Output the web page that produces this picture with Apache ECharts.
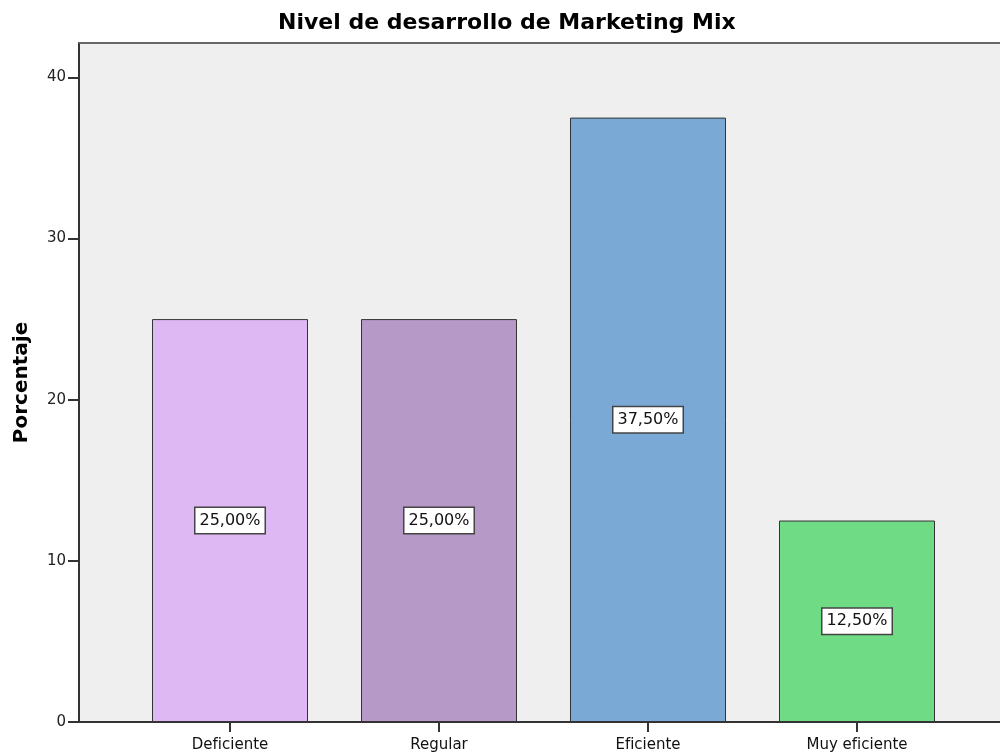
<!DOCTYPE html>
<html lang="es">
<head>
    <meta charset="UTF-8">
    <title>Nivel de desarrollo de Marketing Mix</title>
    <script src="https://cdn.jsdelivr.net/npm/echarts@6/dist/echarts.min.js" type="text/javascript"></script>
    <style>
        html, body { margin: 0; padding: 0; background: #fff; }
        #chart { width: 1000px; height: 756px; }
    </style>
</head>
<body>
<div id="chart"></div>
<script type="text/javascript">
    var categorias = ['Deficiente', 'Regular', 'Eficiente', 'Muy eficiente'];
    var porcentajes = [25.0, 25.0, 37.5, 12.5];
    var colores = ['#ddb8f2', '#b799c8', '#7aa9d6', '#6fdb84'];
    var ticksY = [0, 10, 20, 30, 40];

    var chart = echarts.init(document.getElementById('chart'));
    var fuente = 'DejaVu Sans, sans-serif';
    var yMax = 42.13;

    chart.setOption({
        animation: false,
        title: {
            text: 'Nivel de desarrollo de Marketing Mix',
            left: 273,
            top: 7,
            textStyle: { fontFamily: fuente, fontSize: 22, fontWeight: 'bold', color: '#000' }
        },
        grid: [
            {   // fondo y eje Y
                left: 79, right: 0, top: 43, bottom: 34,
                show: true, backgroundColor: '#efefef', borderWidth: 0
            },
            {   // barras
                left: 125.5, right: 38.5, top: 43, bottom: 34
            }
        ],
        graphic: [
            { type: 'line', shape: { x1: 79, y1: 43, x2: 1000, y2: 43 }, style: { stroke: '#666', lineWidth: 2 }, z: 10 }
        ],
        xAxis: [
            {
                type: 'value', gridIndex: 0, min: 0, max: 1,
                axisLine: { show: true, lineStyle: { color: '#333', width: 2 } },
                axisTick: { show: false }, axisLabel: { show: false }, splitLine: { show: false }
            },
            {
                type: 'category', gridIndex: 1, data: categorias,
                axisLine: { show: false },
                axisTick: { show: true, alignWithLabel: true, length: 10, lineStyle: { color: '#333', width: 2 } },
                axisLabel: { fontFamily: fuente, fontSize: 15, color: '#111', margin: 16 }
            }
        ],
        yAxis: [
            {
                type: 'value', gridIndex: 0, min: 0, max: yMax, interval: 10,
                name: 'Porcentaje', nameLocation: 'middle', nameGap: 47,
                nameTextStyle: { fontFamily: fuente, fontSize: 20, fontWeight: 'bold', color: '#000' },
                axisLine: { show: true, lineStyle: { color: '#333', width: 2 } },
                axisTick: { show: true, length: 11, lineStyle: { color: '#333', width: 2 } },
                axisLabel: {
                    fontFamily: fuente, fontSize: 15, color: '#222', margin: 13, showMaxLabel: false,
                    formatter: function (v) { return ticksY.indexOf(v) >= 0 ? String(v) : ''; }
                },
                splitLine: { show: false }
            },
            {
                type: 'value', gridIndex: 1, min: 0, max: yMax, show: false
            }
        ],
        series: [{
            type: 'bar',
            xAxisIndex: 1,
            yAxisIndex: 1,
            barWidth: 156,
            data: porcentajes.map(function (v, i) {
                return { value: v, itemStyle: { color: colores[i] } };
            }),
            itemStyle: { borderColor: '#333', borderWidth: 1 },
            label: {
                show: true,
                position: 'inside',
                fontFamily: fuente,
                fontSize: 16,
                color: '#111',
                backgroundColor: '#fff',
                borderColor: '#444',
                borderWidth: 1.5,
                padding: [5, 4, 4, 4],
                formatter: function (p) { return p.value.toFixed(2).replace('.', ',') + '%'; }
            }
        }]
    });
</script>
</body>
</html>
